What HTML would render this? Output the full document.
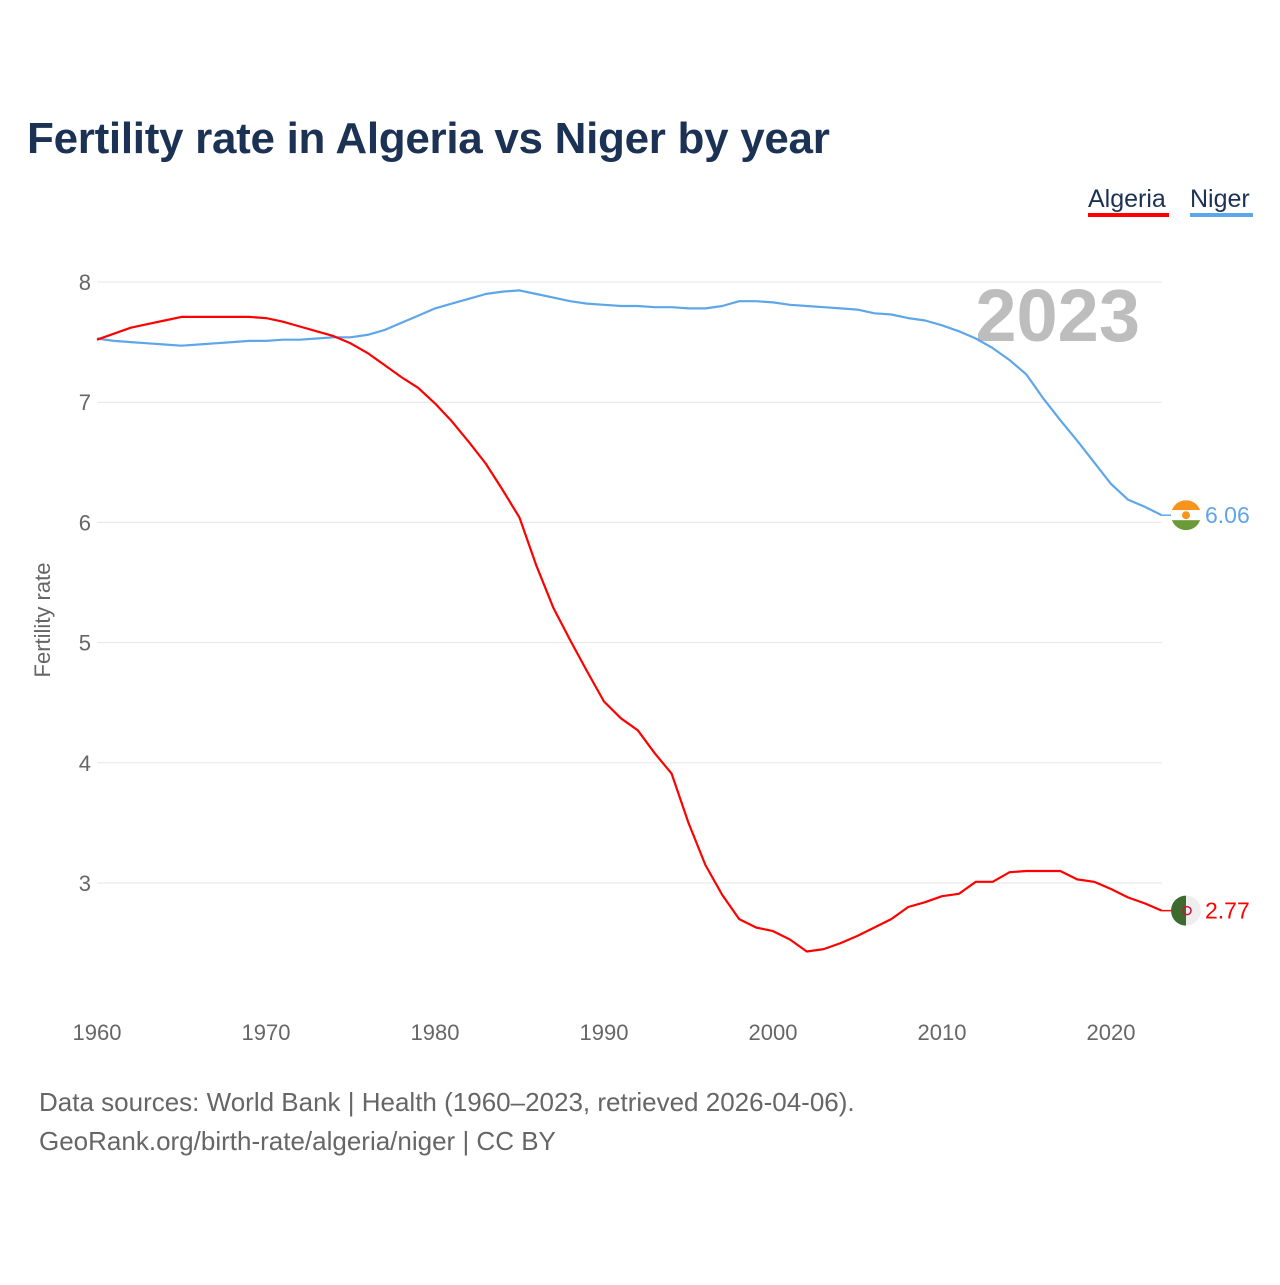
<!DOCTYPE html>
<html><head><meta charset="utf-8"><style>
body{margin:0;background:#fff;font-family:"Liberation Sans",sans-serif;}
svg text{font-family:"Liberation Sans",sans-serif;}
</style></head><body>
<svg id="chart" width="1280" height="1280" xmlns="http://www.w3.org/2000/svg">
<rect width="1280" height="1280" fill="#fff"/>
<text x="27" y="153" font-size="44" font-weight="bold" fill="#1b3254" letter-spacing="-0.3">Fertility rate in Algeria vs Niger by year</text>
<g><text x="1088" y="207" font-size="25" fill="#1b3254">Algeria</text><rect x="1088" y="213" width="81" height="4" fill="#f00"/></g>
<g><text x="1190" y="207" font-size="25" fill="#1b3254">Niger</text><rect x="1190" y="213" width="63" height="4" fill="#5ea6ea"/></g>
<text transform="translate(50,620) rotate(-90)" text-anchor="middle" font-size="22" fill="#666">Fertility rate</text>
<text x="1140" y="341" text-anchor="end" font-size="74" font-weight="bold" fill="#bdbdbd">2023</text>
<g id="grid"></g><g id="lines"></g>
<text x="39" y="1111" font-size="26" fill="#666">Data sources: World Bank | Health (1960–2023, retrieved 2026-04-06).</text>
<text x="39" y="1150" font-size="26" fill="#666">GeoRank.org/birth-rate/algeria/niger | CC BY</text>
</svg>
<script>
const years=[];for(let y=1960;y<=2023;y++)years.push(y);
const algeria=[7.52,7.57,7.62,7.65,7.68,7.71,7.71,7.71,7.71,7.71,7.70,7.67,7.63,7.59,7.55,7.49,7.41,7.31,7.21,7.12,6.99,6.84,6.67,6.49,6.27,6.04,5.64,5.29,5.02,4.76,4.51,4.37,4.27,4.08,3.91,3.50,3.15,2.90,2.70,2.63,2.60,2.53,2.43,2.45,2.50,2.56,2.63,2.70,2.80,2.84,2.89,2.91,3.01,3.01,3.09,3.10,3.10,3.10,3.03,3.01,2.95,2.88,2.83,2.77];
const niger=[7.53,7.51,7.50,7.49,7.48,7.47,7.48,7.49,7.50,7.51,7.51,7.52,7.52,7.53,7.54,7.54,7.56,7.60,7.66,7.72,7.78,7.82,7.86,7.90,7.92,7.93,7.90,7.87,7.84,7.82,7.81,7.80,7.80,7.79,7.79,7.78,7.78,7.80,7.84,7.84,7.83,7.81,7.80,7.79,7.78,7.77,7.74,7.73,7.70,7.68,7.64,7.59,7.53,7.45,7.35,7.23,7.03,6.85,6.68,6.50,6.32,6.19,6.13,6.06];
const yTicks=[3,4,5,6,7,8];
const xTicks=[1960,1970,1980,1990,2000,2010,2020];
const NS="http://www.w3.org/2000/svg";
const x=v=>97+(v-1960)*(1111-97)/60;
const y=v=>282+(8-v)*120.2;
const grid=document.getElementById('grid'),lines=document.getElementById('lines');
function mk(t,a,p){const e=document.createElementNS(NS,t);for(const k in a)e.setAttribute(k,a[k]);p.appendChild(e);return e;}
yTicks.forEach(t=>{
 const l=mk('line',{x1:97,x2:1162,y1:y(t),y2:y(t),stroke:'#e6e6e6','stroke-width':1},grid);
 
 
 const tx=mk('text',{x:91,y:y(t)+8,'text-anchor':'end','font-size':22,fill:'#666'},grid);tx.textContent=t;
 
 
});
xTicks.forEach(t=>{
 const tx=mk('text',{x:x(t),y:1040,'text-anchor':'middle','font-size':22,fill:'#666'},grid);tx.textContent=t;
 
 
});
function series(vals,color,name,flagFn){
 const d=vals.map((v,i)=>(i?'L':'M')+x(years[i]).toFixed(1)+','+y(v).toFixed(1)).join('');
 const p=mk('path',{d:d,fill:'none',stroke:color,'stroke-width':2.2,'stroke-linejoin':'round'},lines);
 
 
 const last=vals[vals.length-1],ly=y(last);
 mk('line',{x1:x(2023),x2:1175,y1:ly,y2:ly,stroke:color,'stroke-width':1.5},lines);
 const g=mk('g',{},lines);
 
 
 flagFn(g,1186,ly);
 const t=mk('text',{x:1205,y:ly+8,'font-size':23,fill:color},lines);t.textContent=last.toFixed(2);
 
 
}
series(niger,'#5ea6ea','niger',(g,cx,cy)=>{
 mk('clipPath',{id:'cn'},g).appendChild(document.createElementNS(NS,'circle')).setAttribute('r',15);
 document.querySelector('#cn circle').setAttribute('cx',cx);document.querySelector('#cn circle').setAttribute('cy',cy);
 const c=mk('g',{'clip-path':'url(#cn)'},g);
 mk('rect',{x:cx-15,y:cy-15,width:30,height:10,fill:'#f7941d'},c);
 mk('rect',{x:cx-15,y:cy-5,width:30,height:10,fill:'#fff'},c);
 mk('rect',{x:cx-15,y:cy+5,width:30,height:10,fill:'#6a9a3a'},c);
 mk('circle',{cx:cx,cy:cy,r:4,fill:'#f7941d'},c);
});
series(algeria,'#f00','algeria',(g,cx,cy)=>{
 mk('path',{d:`M${cx},${cy-15}A15,15 0 0 0 ${cx},${cy+15}Z`,fill:'#3d6b2f'},g);
 mk('path',{d:`M${cx},${cy-15}A15,15 0 0 1 ${cx},${cy+15}Z`,fill:'#eee'},g);
 mk('circle',{cx:cx+1,cy:cy,r:4,fill:'none',stroke:'#d21034','stroke-width':1.5},g);
});
</script>
</body></html>
